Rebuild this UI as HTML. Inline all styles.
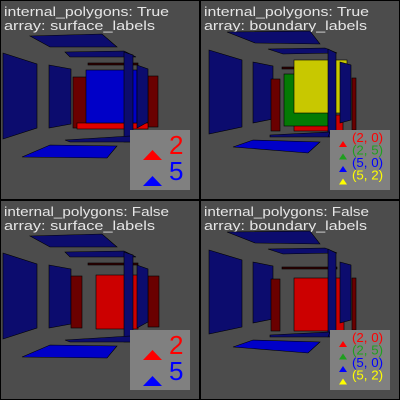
<!DOCTYPE html>
<html><head><meta charset="utf-8"><style>
html,body{margin:0;padding:0;background:#4c4c4c;}
svg{display:block;font-family:"Liberation Sans",sans-serif;}
</style></head><body>
<svg id="chart" width="400" height="400" viewBox="0 0 400 400" xmlns="http://www.w3.org/2000/svg"></svg>
<script>
const panelTitles1 = ["internal_polygons: True","internal_polygons: True","internal_polygons: False","internal_polygons: False"];
const panelTitles2 = ["array: surface_labels","array: boundary_labels","array: surface_labels","array: boundary_labels"];
const surfaceLabels = ["2","5"];
const surfaceColors = ["#ff0000","#0000ff"];
const boundaryLabels = ["(2, 0)","(2, 5)","(5, 0)","(5, 2)"];
const boundaryColors = ["#ff0000","#1f9f1f","#0000ff","#ffff00"];
const offsets = [[0,0],[200,0],[0,200],[200,200]];

const NS="http://www.w3.org/2000/svg";
const svg=document.getElementById('chart');
function mk(tag,attrs,parent){const e=document.createElementNS(NS,tag);for(const k in attrs)e.setAttribute(k,attrs[k]);parent.appendChild(e);return e;}
const WALL="#0c0c6e", BLUE="#0000c8", DRED="#6a0000", RED="#cc0000";
function poly(g,pts,fill,name){const p=mk('polygon',{points:pts,fill:fill,stroke:'#000','stroke-width':0.6},g);

}
function rect(g,x,y,w,h,fill,name){const r=mk('rect',{x:x,y:y,width:w,height:h,fill:fill,stroke:'#000','stroke-width':0.6},g);

}

function sceneLeft(g,internal){
  poly(g,"3,53 37,64 37,128 3,139",WALL,"left-wall");
  poly(g,"49,65 71,69 71,124 49,128",WALL,"inner-left-wall");
  poly(g,"30,36 102,34 117,47 50,47",WALL,"top-plate");
  poly(g,"65,52 124,51 136,57 70,57",WALL,"inner-top-plate");
  rect(g,88,63,50,2,"#300000","thin-edge");
  if(internal){
    rect(g,73,77,14,51,DRED,"dark-red-left");
    rect(g,148,76,10,51,DRED,"dark-red-right");
    rect(g,77,123,71,6,"#e00000","red-bottom");
    rect(g,86,70,51,53,BLUE,"blue-face");
  } else {
    rect(g,71,76,11,52,DRED,"dark-red-left");
    rect(g,148,76,11,51,DRED,"dark-red-right");
    rect(g,96,75,42,54,RED,"red-face");
  }
  poly(g,"124,52 133,55 133,142 124,142",WALL,"vertical-slab");
  poly(g,"137,65 148,69 148,122 137,128",WALL,"right-wall");
  poly(g,"65,140 130,136 133,142 70,142",WALL,"inner-bottom-plate");
  poly(g,"50,145 117,146 107,158 22,157",BLUE,"bottom-plate");
}
function sceneRight(g,internal){
  poly(g,"9,50 42,60 42,127 9,134",WALL,"left-wall");
  poly(g,"53,62 73,66 73,119 53,123",WALL,"inner-left-wall");
  poly(g,"27,32 110,31 120,44 55,43",WALL,"top-plate");
  poly(g,"68,49 125,48 137,53 83,54",WALL,"inner-top-plate");
  rect(g,82,67,55,2,"#300000","thin-edge");
  rect(g,71,79,9,52,DRED,"dark-red-left");
  rect(g,152,78,4,52,DRED,"dark-red-right");
  if(internal){
    rect(g,94,115,49,16,RED,"red-face");
    rect(g,84,74,44,52,"#047a04","green-face");
    rect(g,94,60,53,53,"#c8c800","yellow-face");
  } else {
    rect(g,94,78,50,53,RED,"red-face");
  }
  poly(g,"128,49 136,53 136,137 128,137",WALL,"vertical-slab");
  poly(g,"140,62 151,65 151,120 140,123",WALL,"right-wall");
  poly(g,"70,135 130,132 128,137 70,137",WALL,"inner-bottom-plate");
  poly(g,"33,147 53,140 120,142 108,153",BLUE,"bottom-plate");
}

offsets.forEach((o,i)=>{
  const g=mk('g',{transform:`translate(${o[0]},${o[1]})`},svg);
  
  
  mk('rect',{x:0.5,y:0.5,width:199,height:199,fill:'#4c4c4c',stroke:'#000','stroke-width':1},g);
  const t1=mk('text',{x:4,y:16,fill:'#e6e6e6','font-size':13,textLength:165,lengthAdjust:'spacingAndGlyphs'},g);
  t1.textContent=panelTitles1[i];
  
  
  const t2=mk('text',{x:4,y:30,fill:'#e6e6e6','font-size':13,textLength:(i%2?163:151),lengthAdjust:'spacingAndGlyphs'},g);
  t2.textContent=panelTitles2[i];
  
  
  const internal=i<2;
  if(i%2===0) sceneLeft(g,internal); else sceneRight(g,internal);
  const lg=mk('g',{},g);
  
  
  mk('rect',{x:130,y:130,width:60,height:60,fill:'#808080'},lg);
  if(i%2===0){
    surfaceLabels.forEach((lab,k)=>{
      const base=160+k*26;
      const tri=mk('polygon',{points:`143,${base} 162,${base} 152.5,${base-10}`,fill:surfaceColors[k]},lg);
      
      
      const tx=mk('text',{x:169,y:154+k*26,fill:surfaceColors[k],'font-size':26},lg);
      tx.textContent=lab;
      
      
    });
  } else {
    boundaryLabels.forEach((lab,k)=>{
      const cy=145+k*12.5;
      const tri=mk('polygon',{points:`139,${cy+2} 147,${cy+2} 143,${cy-4}`,fill:boundaryColors[k]},lg);
      
      
      const tx=mk('text',{x:152,y:142+k*12.5,fill:boundaryColors[k],'font-size':13,textLength:31,lengthAdjust:'spacingAndGlyphs'},lg);
      tx.textContent=lab;
      
      
    });
  }
});
</script>
</body></html>
